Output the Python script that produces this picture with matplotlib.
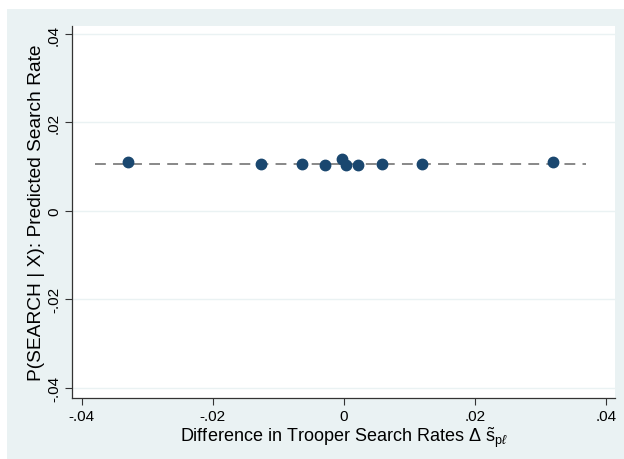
import matplotlib
matplotlib.use("Agg")
import matplotlib.pyplot as plt
from matplotlib.patches import Rectangle

# trooper search rate difference vs predicted search rate
diff_rate = [-0.0330, -0.0127, -0.0064, -0.0028, -0.0003, 0.0004, 0.0022, 0.0058, 0.0120, 0.0320]
pred_rate = [0.0110, 0.0105, 0.0105, 0.0103, 0.0118, 0.0103, 0.0103, 0.0105, 0.0105, 0.0110]

# fitted line (flat)
fit_x = [-0.0380, 0.0369]
fit_y = [0.0106, 0.0106]

xticks = [-0.04, -0.02, 0, 0.02, 0.04]
xtick_labels = ["-.04", "-.02", "0", ".02", ".04"]
yticks = [-0.04, -0.02, 0, 0.02, 0.04]
ytick_labels = ["-.04", "-.02", "0", ".02", ".04"]

plt.rcParams["font.family"] = ["Liberation Sans", "DejaVu Sans"]
plt.rcParams["mathtext.fontset"] = "custom"
plt.rcParams["mathtext.rm"] = "Liberation Sans"
plt.rcParams["mathtext.it"] = "Liberation Sans:italic"

bg = "#EAF2F3"
navy = "#1A476F"

fig = plt.figure(figsize=(6.24, 4.6), dpi=100)
fig.patch.set_facecolor("white")
fig.add_artist(Rectangle((7 / 624, 0), 1 - 7 / 624, 1 - 10 / 460,
                         transform=fig.transFigure, facecolor=bg,
                         edgecolor="none", zorder=-5))

ax = fig.add_axes([72 / 624, 1 - 399 / 460, (615 - 72) / 624, (399 - 27) / 460])
ax.set_facecolor("white")

ax.plot(fit_x, fit_y, color="#7f7f7f", linewidth=1.3, linestyle=(0, (6, 4)), zorder=2)
ax.plot(diff_rate, pred_rate, "o", color=navy, markersize=7.5, zorder=3)

ax.set_xlim(-0.0415, 0.0414)
ax.set_ylim(-0.0423, 0.0418)
ax.set_xticks(xticks, xtick_labels)
ax.set_yticks(yticks, ytick_labels)
for lab in ax.get_yticklabels():
    lab.set_rotation(90)
    lab.set_va("center")

ax.grid(axis="y", color=bg, linewidth=1.0)
ax.set_axisbelow(True)
for side in ("top", "right"):
    ax.spines[side].set_visible(False)
for side in ("left", "bottom"):
    ax.spines[side].set_color("#333333")
    ax.spines[side].set_linewidth(0.9)
ax.tick_params(direction="out", length=5, width=0.8, color="#333333",
               labelsize=11, pad=3)

ax.set_xlabel(r"Difference in Trooper Search Rates $\Delta\ \tilde{\mathrm{s}}_{\mathrm{p}\ell}$",
              fontsize=13, labelpad=1)
ax.set_ylabel("P(SEARCH | X): Predicted Search Rate", fontsize=13.8, labelpad=1)

fig.savefig("out.png", dpi=100, facecolor=fig.get_facecolor())
